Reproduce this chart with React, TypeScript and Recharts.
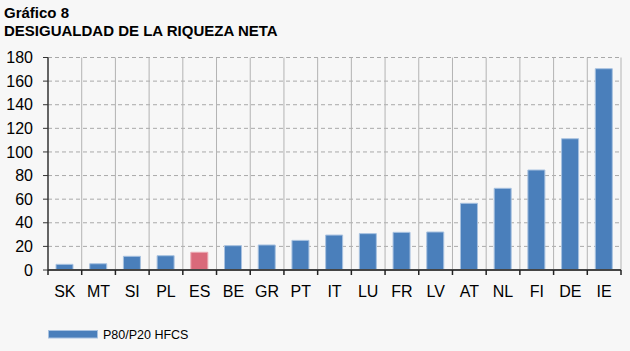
import React from 'react';
import { BarChart, Bar, XAxis, YAxis, CartesianGrid, Cell } from 'recharts';

const categories = ['SK', 'MT', 'SI', 'PL', 'ES', 'BE', 'GR', 'PT', 'IT', 'LU', 'FR', 'LV', 'AT', 'NL', 'FI', 'DE', 'IE'];
const values = [4.8, 5.3, 11.6, 12.1, 15.0, 20.6, 21.2, 25.1, 29.6, 30.8, 31.9, 32.2, 56.5, 69.2, 84.7, 111.2, 170.5];
const highlighted = 'ES';
const yTicks = [0, 20, 40, 60, 80, 100, 120, 140, 160, 180];
const seriesName = 'P80/P20 HFCS';
const titleLine1 = 'Gráfico 8';
const titleLine2 = 'DESIGUALDAD DE LA RIQUEZA NETA';

const data = categories.map((c, i) => ({ name: c, value: values[i] }));

const FONT = '"Liberation Sans", Arial, Helvetica, sans-serif';
const BLUE = '#4a7fbb';
const BLUE_STROKE = '#a8c2e0';
const RED = '#d9697a';
const RED_STROKE = '#eba8b2';

const XTick = (props: any) => {
  const { x, y, payload, width, visibleTicksCount } = props;
  const n = visibleTicksCount || categories.length;
  const w = typeof width === 'number' && width > 0 ? width : 573;
  const band = w / n;
  const bx = x + band / 2;
  return (
    <g>
      <line x1={bx} x2={bx} y1={y} y2={y + 5} stroke="#222" strokeWidth={1.5} />
      {payload.index === 0 ? (
        <line x1={x - band / 2} x2={x - band / 2} y1={y} y2={y + 5} stroke="#222" strokeWidth={1.5} />
      ) : null}
      <text x={x} y={y + 27} textAnchor="middle" fill="#000" fontSize={16} fontFamily={FONT}>
        {payload.value}
      </text>
    </g>
  );
};

export default function App() {
  return (
    <div style={{ position: 'absolute', left: 0, top: 0, width: 630, height: 351, background: '#f7f7f7' }}>
      <BarChart
        width={630}
        height={351}
        data={data}
        margin={{ top: 57.5, right: 9, bottom: 51, left: 0 }}
        barSize={17}
      >
        <CartesianGrid
          vertical={false}
          stroke="#a9a9a9"
          strokeDasharray="4 3"
        />
        <CartesianGrid
          horizontal={false}
          stroke="#b3b3b3"
          verticalCoordinatesGenerator={({ offset }: any) =>
            categories.map((_, i) => offset.left + ((i + 1) * offset.width) / categories.length)
          }
        />
        <XAxis
          dataKey="name"
          interval={0}
          height={30}
          tickSize={0}
          tickMargin={0}
          tickLine={false}
          axisLine={{ stroke: '#444', strokeWidth: 2 }}
          tick={<XTick />}
        />
        <YAxis
          width={48}
          domain={[0, 180]}
          ticks={yTicks}
          interval={0}
          tickSize={5}
          tickMargin={10}
          axisLine={{ stroke: '#333', strokeWidth: 1.5 }}
          tickLine={{ stroke: '#333', strokeWidth: 1 }}
          tick={{ fill: '#000', fontSize: 16, fontFamily: FONT }}
        />
        <Bar dataKey="value" isAnimationActive={false} strokeWidth={1}>
          {data.map((d) => (
            <Cell
              key={d.name}
              fill={d.name === highlighted ? RED : BLUE}
              stroke={d.name === highlighted ? RED_STROKE : BLUE_STROKE}
            />
          ))}
        </Bar>
      </BarChart>
      <svg
        width={630}
        height={351}
        style={{ position: 'absolute', left: 0, top: 0, pointerEvents: 'none' }}
      >
        <text x={4} y={17.5} fontSize={15} fontWeight="bold" fontFamily={FONT} fill="#000">
          {titleLine1}
        </text>
        <text x={4} y={36} fontSize={15} fontWeight="bold" fontFamily={FONT} fill="#000">
          {titleLine2}
        </text>
        <rect x={48.5} y={330.5} width={49} height={7.5} fill={BLUE} stroke={BLUE_STROKE} strokeWidth={1} />
        <text x={103} y={339} fontSize={12.5} fontFamily={FONT} fill="#000">
          {seriesName}
        </text>
      </svg>
    </div>
  );
}
